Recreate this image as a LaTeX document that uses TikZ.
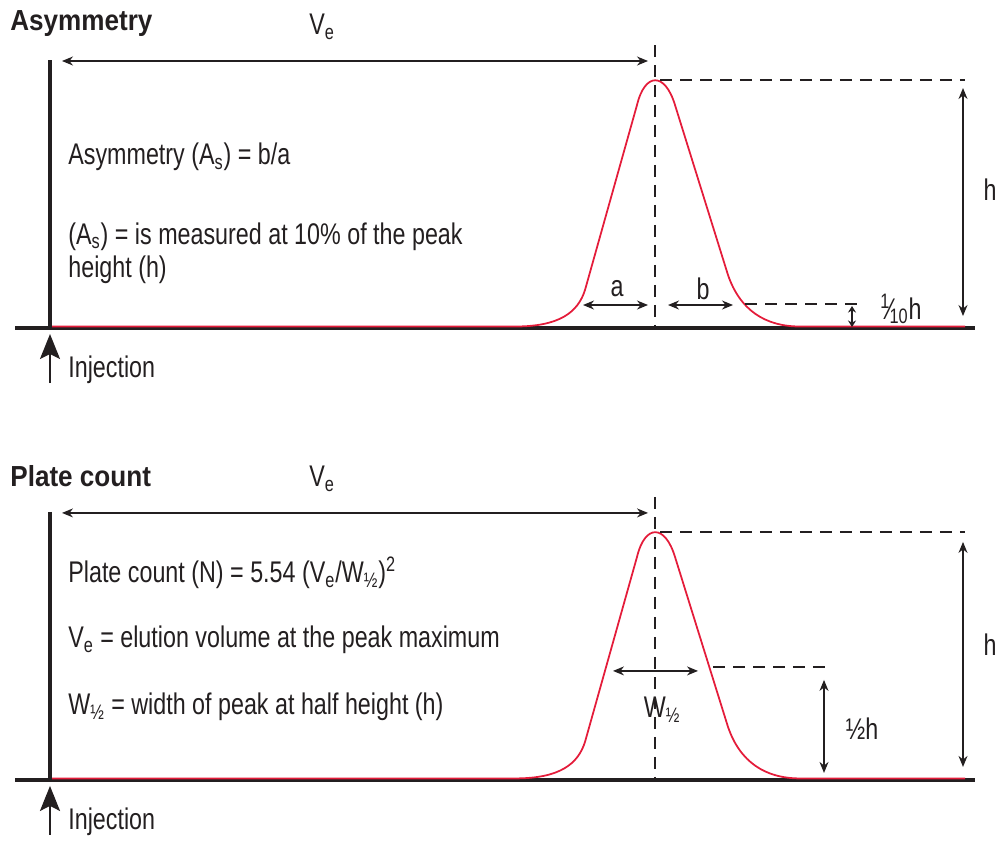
\documentclass[tikz,border=0pt]{standalone}
\usepackage{fontspec}
\setmainfont{Liberation Sans}[FakeStretch=0.78]
\newfontfamily\headfont{Liberation Sans}[FakeStretch=0.9]
\usetikzlibrary{arrows.meta,positioning}
\definecolor{peakred}{RGB}{228,28,58}
\definecolor{ink}{RGB}{35,31,32}
\tikzset{every picture/.style={>=Stealth}}
\tikzset{
    dim/.style={{Stealth[length=2.2mm,width=1.8mm]}-{Stealth[length=2.2mm,width=1.8mm]}, line width=0.7pt, ink},
    smalldim/.style={{Stealth[length=1.3mm,width=1.6mm]}-{Stealth[length=1.3mm,width=1.6mm]}, line width=0.7pt, ink},
    guide/.style={dash pattern=on 0.24cm off 0.16cm, line width=0.7pt, ink},
    axis/.style={line width=2pt, ink},
    curve/.style={line width=1pt, peakred},
    inject/.style={-{Stealth[length=5mm,width=4mm,inset=1mm]}, line width=1.2pt, ink},
    title/.style={font=\headfont\fontsize{16.5}{19}\selectfont\bfseries}
}

\begin{document}
\begin{tikzpicture}[
    x=0.02cm, y=-0.02cm,
    every node/.style={font=\fontsize{17}{18.7}\selectfont, text=ink, inner sep=0pt}
]
    \useasboundingbox (0,0) rectangle (1000,840);

    \begin{scope}
      % title and elution volume
      \node[title, anchor=west] (asym) at (10,24) {Asymmetry};
      \node (veA) at (322,27) {V\textsubscript{e}};
      \coordinate (veA0) at (62,61);
      \coordinate (veA1) at (648,61);
      \draw[dim] (veA0) -- (veA1);

      % axes
      \coordinate (axA) at (50,60);
      \coordinate (oA) at (50,328);
      \coordinate (blA0) at (15,328);
      \coordinate (blA1) at (975,328);
      \draw[axis] (axA) -- (oA);
      \draw[axis] (blA0) -- (blA1);

      % peak
      \draw[curve] (52,326.5) -- (515,326.5)
          .. controls (560,326.5) and (578,312) .. (585,290)
          -- (637,105) .. controls (645,72) and (665,72) .. (675,105)
          -- (728,275) .. controls (740,310) and (765,326.5) .. (800,326.5)
          -- (965,326.5);
      \coordinate (pkA) at (660,80);
      \coordinate (topA) at (655,45);
      \coordinate (ftA) at (655,328);
      \coordinate (hrA) at (965,80);
      \draw[guide] (topA) -- (ftA);
      \draw[guide] (pkA) -- (hrA);

      % peak height
      \coordinate (hA0) at (963,88);
      \coordinate (hA1) at (963,316);
      \draw[dim] (hA0) -- (hA1);
      \node (hlA) at (990,190) {h};

      % a and b at 10% height
      \coordinate (aA0) at (583,305);
      \coordinate (aA1) at (648,305);
      \draw[dim] (aA0) -- (aA1);
      \node (alA) at (617,289) {a};
      \coordinate (bA0) at (668,305);
      \coordinate (bA1) at (733,305);
      \draw[dim] (bA0) -- (bA1);
      \node (blbA) at (703,289) {b};
      \coordinate (tenA0) at (745,304);
      \coordinate (tenA1) at (858,304);
      \draw[guide] (tenA0) -- (tenA1);
      \coordinate (tdA0) at (852,306);
      \coordinate (tdA1) at (852,327);
      \draw[smalldim] (tdA0) -- (tdA1);
      \node (tenlA) at (901,309) {\textsuperscript{1}\kern-0.08em⁄\kern-0.08em\textsubscript{10}h};

      % text
      \node[anchor=west] (eqA) at (68,157) {Asymmetry (A\textsubscript{s}) = b/a};
      \node[anchor=west, align=left] (defA) at (68,253)
          {(A\textsubscript{s}) = is measured at 10\% of the peak\\height (h)};

      % injection
      \coordinate (injA0) at (50,383);
      \coordinate (injA1) at (50,334);
      \draw[inject] (injA0) -- (injA1);
      \node[anchor=west] (injlA) at (68,370) {Injection};
    \end{scope}

    \begin{scope}[yshift=-9.04cm]
      % title and elution volume
      \node[title, anchor=west] (plate) at (10,24) {Plate count};
      \node (veB) at (322,27) {V\textsubscript{e}};
      \coordinate (veB0) at (62,61);
      \coordinate (veB1) at (648,61);
      \draw[dim] (veB0) -- (veB1);

      % axes
      \coordinate (axB) at (50,60);
      \coordinate (oB) at (50,328);
      \coordinate (blB0) at (15,328);
      \coordinate (blB1) at (975,328);
      \draw[axis] (axB) -- (oB);
      \draw[axis] (blB0) -- (blB1);

      % peak
      \draw[curve] (52,326.5) -- (515,326.5)
          .. controls (560,326.5) and (578,312) .. (585,290)
          -- (637,105) .. controls (645,72) and (665,72) .. (675,105)
          -- (728,275) .. controls (740,310) and (765,326.5) .. (800,326.5)
          -- (965,326.5);
      \coordinate (pkB) at (660,80);
      \coordinate (topB) at (655,45);
      \coordinate (ftB) at (655,328);
      \coordinate (hrB) at (965,80);
      \draw[guide] (topB) -- (ftB);
      \draw[guide] (pkB) -- (hrB);

      % peak height
      \coordinate (hB0) at (963,90);
      \coordinate (hB1) at (963,315);
      \draw[dim] (hB0) -- (hB1);
      \node (hlB) at (990,193) {h};

      % width at half height
      \coordinate (wB0) at (613,219);
      \coordinate (wB1) at (698,219);
      \draw[dim] (wB0) -- (wB1);
      \node (wlB) at (662,258) {W\textsubscript{½}};
      \coordinate (halfB0) at (713,215);
      \coordinate (halfB1) at (825,215);
      \draw[guide] (halfB0) -- (halfB1);
      \coordinate (hhB0) at (824,228);
      \coordinate (hhB1) at (824,321);
      \draw[dim] (hhB0) -- (hhB1);
      \node (hhlB) at (862,277) {½h};

      % text
      \node[anchor=west] (eqB) at (68,121)
          {Plate count (N) = 5.54 (V\textsubscript{e}/W\textsubscript{½})\textsuperscript{2}};
      \node[anchor=west] (veDefB) at (68,188) {V\textsubscript{e} = elution volume at the peak maximum};
      \node[anchor=west] (wDefB) at (68,255) {W\textsubscript{½} = width of peak at half height (h)};

      % injection
      \coordinate (injB0) at (50,383);
      \coordinate (injB1) at (50,334);
      \draw[inject] (injB0) -- (injB1);
      \node[anchor=west] (injlB) at (68,370) {Injection};
    \end{scope}
\end{tikzpicture}
\end{document}
